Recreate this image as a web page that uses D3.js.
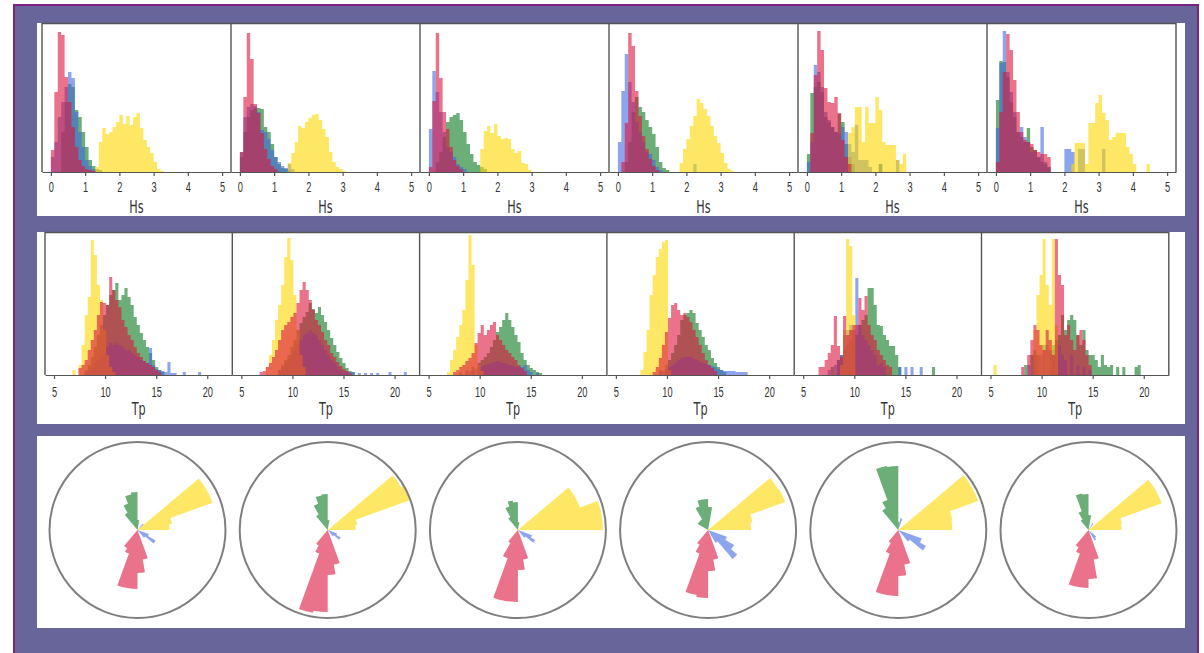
<!DOCTYPE html>
<html>
<head>
<meta charset="utf-8">
<script src="https://d3js.org/d3.v7.min.js"></script>
<style>
  body { margin: 0; background: #fff; }
  svg { display: block; font-family: "DejaVu Sans", sans-serif; }
  .spine { stroke: #555; stroke-width: 1.4; fill: none; }
  .axis path, .axis line { stroke: #555; stroke-width: 1.2; }
  .axis text { fill: #333; }
</style>
</head>
<body>
<svg id="chart" width="1204" height="653"></svg>
<script>
// ---- data (counts are in plot units) ----
// each panel: s = index of first bin, v = bin heights
var hsBin = 0.1;
var hsTicks = [0, 1, 2, 3, 4, 5];
var hsBlue = [
  {s: 0, v: [15, 30, 55, 70, 85, 100, 94, 60, 40, 25, 12, 6, 3]},
  {s: 0, v: [20, 55, 65, 68, 66, 60, 42, 40, 33, 22, 15, 10, 6, 4, 8, 3]},
  {s: 0, v: [43, 101, 80, 60, 40, 25, 20, 15, 8, 5, 3]},
  {s: 0, v: [30, 81, 118, 90, 70, 50, 40, 30, 20, 18, 12, 5, 2, 0, 0, 0, 0, 0, 0, 0, 0, 0, 8]},
  {s: 0, v: [10, 30, 107, 100, 85, 60, 52, 45, 40, 38, 45, 40, 28, 20, 47, 12, 12, 12, 5, 0, 0, 8, 0, 0, 0, 0, 12]},
  {s: 0, v: [44, 109, 141, 100, 80, 60, 40, 45, 35, 30, 20, 20, 15, 45, 10, 5, 0, 0, 0, 0, 23, 23, 20, 0, 23, 23, 0, 0, 0, 0, 0, 23]}
];
var hsGreen = [
  {s: 3, v: [40, 70, 88, 85, 62, 55, 40, 25, 12, 6, 3, 2]},
  {s: 0, v: [15, 40, 55, 62, 64, 64, 63, 45, 40, 28, 15, 8, 4, 3, 2]},
  {s: 2, v: [10, 20, 35, 50, 55, 57, 59, 52, 40, 28, 18, 10, 7, 5, 3]},
  {s: 2, v: [10, 30, 60, 75, 65, 60, 52, 45, 38, 25, 10, 4, 2]},
  {s: 0, v: [18, 79, 85, 90, 80, 55, 50, 45, 40, 58, 50, 28, 15, 8, 0, 0, 0, 0, 0, 0, 0, 8]},
  {s: 0, v: [72, 111, 110, 95, 70, 55, 40, 35, 30, 44, 25, 22, 15, 10, 8, 5]}
];
var hsYellow = [
  {s: 13, v: [5, 30, 44, 38, 40, 45, 50, 57, 48, 56, 47, 55, 59, 44, 32, 25, 19, 10, 3, 1]},
  {s: 14, v: [9, 19, 30, 46, 44, 50, 54, 57, 58, 52, 43, 35, 20, 10, 5, 3, 1]},
  {s: 15, v: [23, 41, 46, 39, 48, 36, 33, 34, 33, 23, 19, 21, 9, 8, 2]},
  {s: 18, v: [9, 23, 33, 46, 56, 73, 69, 63, 56, 46, 36, 29, 19, 9, 3, 1]},
  {s: 12, v: [39, 45, 65, 65, 30, 65, 49, 49, 75, 62, 30, 27, 27, 27, 12, 8, 18]},
  {s: 22, v: [8, 29, 29, 29, 8, 49, 49, 69, 77, 59, 52, 32, 35, 39, 39, 39, 25, 18, 8, 0, 0, 0, 8]}
];
var hsRed = [
  {s: 0, v: [22, 80, 140, 137, 95, 70, 45, 25, 12, 6, 3, 2, 1]},
  {s: 0, v: [20, 75, 139, 113, 68, 59, 39, 23, 13, 6, 3]},
  {s: 0, v: [5, 71, 139, 94, 60, 43, 25, 12, 6, 3]},
  {s: 1, v: [10, 49, 139, 126, 81, 56, 36, 23, 13, 6, 2]},
  {s: 1, v: [39, 97, 141, 122, 84, 70, 69, 75, 59, 32, 15, 8]},
  {s: 0, v: [10, 60, 100, 138, 122, 92, 60, 40, 32, 30, 28, 22, 20, 18, 18, 15]}
];

var tpBin = 0.3, tpStart = 5;
var tpTicks = [5, 10, 15, 20];
var tpBlue = [
  {s: 10, v: [3, 5, 8, 12, 15, 18, 22, 28, 32, 30, 32, 30, 28, 25, 25, 22, 20, 18, 15, 14, 12, 27, 10, 6, 5, 4, 3, 13, 2, 2, 0, 0, 3, 0, 0, 0, 0, 3]},
  {s: 12, v: [5, 8, 12, 16, 20, 25, 30, 35, 40, 42, 45, 42, 40, 35, 30, 25, 20, 15, 12, 8, 5, 4, 3, 3, 3, 0, 2, 0, 2, 0, 2, 0, 2, 0, 0, 0, 3, 0, 0, 0, 0, 3]},
  {s: 12, v: [3, 4, 5, 6, 8, 9, 10, 11, 12, 13, 14, 13, 12, 11, 10, 9, 8, 8, 8, 10, 5, 3, 0, 2]},
  {s: 14, v: [3, 4, 6, 8, 10, 12, 15, 17, 18, 18, 18, 16, 15, 13, 12, 11, 10, 9, 8, 6, 5, 4, 4, 4, 4, 3, 3, 3, 3]},
  {s: 8, v: [5, 0, 10, 15, 20, 40, 45, 50, 45, 97, 50, 40, 35, 30, 25, 20, 10, 12, 8, 0, 0, 0, 0, 8, 0, 8, 0, 8, 0, 0, 8]},
  {s: 12, v: [10, 0, 20, 0, 20, 0, 30, 0, 25, 0, 30, 20, 15, 0, 20, 0, 10, 0, 8, 0, 5]}
];
var tpGreen = [
  {s: 10, v: [5, 10, 18, 28, 40, 50, 60, 70, 80, 85, 92, 75, 80, 87, 78, 70, 58, 50, 42, 35, 28, 22, 15, 8, 5, 3]},
  {s: 12, v: [5, 10, 15, 20, 28, 35, 45, 52, 58, 63, 72, 66, 62, 68, 60, 53, 45, 37, 30, 23, 17, 12, 7, 4, 3]},
  {s: 10, v: [3, 0, 5, 0, 8, 0, 12, 15, 18, 22, 28, 35, 43, 48, 55, 62, 55, 48, 40, 33, 22, 15, 10, 7, 5, 3, 2]},
  {s: 14, v: [5, 0, 10, 15, 22, 30, 40, 55, 60, 62, 65, 62, 52, 45, 38, 30, 25, 17, 12, 8, 5, 3]},
  {s: 9, v: [8, 0, 15, 20, 25, 30, 35, 45, 40, 50, 55, 60, 87, 87, 70, 50, 49, 40, 35, 29, 29, 20, 8, 0, 0, 0, 0, 0, 0, 0, 0, 0, 0, 8]},
  {s: 11, v: [10, 0, 20, 25, 20, 0, 30, 0, 25, 30, 35, 40, 60, 45, 55, 60, 55, 40, 30, 45, 25, 20, 20, 15, 8, 20, 10, 8, 10, 0, 8, 0, 8, 0, 0, 0, 8, 10]}
];
var tpYellow = [
  {s: 6, v: [5, 0, 10, 30, 60, 78, 135, 120, 90, 75, 45, 20, 8, 3]},
  {s: 8, v: [8, 20, 35, 55, 70, 90, 118, 137, 115, 80, 45, 20, 8]},
  {s: 6, v: [3, 15, 25, 38, 50, 65, 95, 140, 110, 30, 10, 4]},
  {s: 8, v: [5, 23, 45, 80, 100, 118, 126, 133, 135, 5]},
  {s: 12, v: [10, 45, 136, 129, 60]},
  {s: 1, v: [10, 0, 0, 0, 0, 0, 0, 0, 0, 0, 0, 0, 0, 45, 80, 100, 136, 90, 70, 136, 50]}
];
var tpRed = [
  {s: 8, v: [7, 10, 15, 25, 35, 45, 60, 73, 72, 70, 98, 85, 75, 68, 55, 48, 40, 35, 28, 22, 18, 14, 12, 10, 8, 5, 3]},
  {s: 6, v: [3, 4, 8, 12, 18, 25, 35, 45, 50, 53, 58, 62, 72, 85, 93, 85, 75, 65, 55, 50, 43, 35, 30, 22, 18, 13, 9, 6, 4, 2]},
  {s: 8, v: [3, 5, 8, 10, 14, 17, 22, 32, 42, 50, 40, 45, 50, 53, 40, 35, 30, 25, 22, 18, 15, 10, 7, 4]},
  {s: 12, v: [3, 8, 17, 30, 43, 57, 70, 72, 65, 60, 62, 58, 53, 45, 38, 30, 22, 15, 10, 7, 4]},
  {s: 5, v: [8, 8, 15, 22, 30, 59, 29, 18, 59, 40, 45, 50, 50, 77, 65, 79, 50, 40, 35, 25, 20, 15, 10, 8]},
  {s: 10, v: [8, 0, 20, 35, 50, 45, 30, 25, 45, 35, 20, 136, 100, 90, 40, 50, 35, 25, 40, 45, 35, 20, 10]}
];

// rose: 10 degree sectors, s = first sector start (deg, clockwise from north)
var roseStep = 10;
var roseYellow = [
  {s: 50, v: [80, 80, 35, 32]},
  {s: 50, v: [85, 88, 30, 28]},
  {s: 50, v: [66, 66, 85, 85]},
  {s: 50, v: [81, 82, 45, 43]},
  {s: 50, v: [85, 85, 55, 54]},
  {s: 50, v: [78, 78, 34, 33]}
];
var roseGreen = [
  {s: 320, v: [20, 28, 36, 38, 10]},
  {s: 320, v: [18, 28, 35, 36, 10]},
  {s: 320, v: [15, 25, 30, 28, 8]},
  {s: 300, v: [12, 12, 12, 25, 31, 31, 23]},
  {s: 320, v: [25, 32, 65, 64, 8]},
  {s: 320, v: [12, 20, 37, 36, 15]}
];
var roseRed = [
  {s: 160, v: [30, 43, 59, 59, 25, 21]},
  {s: 160, v: [35, 45, 82, 84, 25, 18]},
  {s: 160, v: [30, 40, 72, 72, 30, 15]},
  {s: 160, v: [30, 41, 68, 66, 25, 17]},
  {s: 160, v: [35, 46, 66, 66, 25, 15]},
  {s: 160, v: [30, 49, 58, 58, 25, 20]}
];
var roseBlue = [
  {s: 40, v: [8, 0, 0, 0, 0, 0, 0, 12, 21, 10]},
  {s: 110, v: [10, 15, 8]},
  {s: 110, v: [15, 20, 10]},
  {s: 110, v: [20, 30, 38, 15]},
  {s: 10, v: [12, 0, 0, 0, 0, 0, 0, 0, 0, 0, 25, 32, 15]},
  {s: 30, v: [8, 0, 0, 0, 0, 0, 0, 0, 0, 0, 10, 12]}
];

// ---- styles ----
var colors = {
  blue:   {color: "#4169e1", alpha: 0.6},
  green:  {color: "#2e8b3e", alpha: 0.7},
  yellow: {color: "#ffd700", alpha: 0.6},
  red:    {color: "#dc143c", alpha: 0.6}
};
// drawing order: green under blue under yellow under red
var order = ["green", "blue", "yellow", "red"];

var svg = d3.select("#chart");

// background frame and white strips
svg.append("rect").attr("x", 14).attr("y", 5).attr("width", 1184).attr("height", 660)
  .attr("fill", "#67659a").attr("stroke", "#7d2180").attr("stroke-width", 2);
[[23, 193], [232, 192], [436, 192]].forEach(function (s) {
  svg.append("rect").attr("x", 37).attr("y", s[0]).attr("width", 1148).attr("height", s[1]).attr("fill", "#fff");
});

function stepData(p, bw, x0) {
  var pts = p.v.map(function (v, j) { return {x: x0 + (p.s + j) * bw, v: v}; });
  pts.push({x: x0 + (p.s + p.v.length) * bw, v: p.v[p.v.length - 1]});
  return pts;
}

function histRow(opt) {
  var g = svg.append("g");
  for (var i = 0; i < 6; i++) {
    var L = opt.left + opt.w * i;
    var x = d3.scaleLinear().domain(opt.domain).range([L, L + opt.w]);
    var y = d3.scaleLinear().domain([0, opt.top]).range([opt.bottom, opt.y0]);
    var area = d3.area().curve(d3.curveStepAfter)
      .x(function (d) { return x(d.x); })
      .y0(y(0))
      .y1(function (d) { return y(d.v); });
    order.forEach(function (name) {
      g.append("path")
        .datum(stepData(opt[name][i], opt.bw, opt.x0))
        .attr("d", area)
        .attr("fill", colors[name].color)
        .attr("fill-opacity", colors[name].alpha);
    });

    var ax = g.append("g").attr("class", "axis")
      .attr("transform", "translate(0," + opt.bottom + ")")
      .call(d3.axisBottom(x).tickValues(opt.ticks).tickFormat(d3.format("d"))
        .tickSize(4).tickPadding(opt.pad).tickSizeOuter(0));
    ax.selectAll("text").attr("font-size", 14).attr("transform", "scale(0.66,1)");

    g.append("text")
      .attr("transform", "translate(" + (L + opt.w / 2) + "," + opt.labelY + ") scale(0.66,1)")
      .attr("text-anchor", "middle")
      .attr("font-size", 17)
      .attr("fill", "#333")
      .text(opt.label);

    g.append("line").attr("class", "spine")
      .attr("x1", L).attr("x2", L).attr("y1", opt.y0).attr("y2", opt.bottom);
  }
  var R = opt.left + opt.w * 6;
  g.append("line").attr("class", "spine").attr("x1", R).attr("x2", R).attr("y1", opt.y0).attr("y2", opt.bottom);
  g.append("line").attr("class", "spine").attr("x1", opt.left).attr("x2", R).attr("y1", opt.y0 + 0.5).attr("y2", opt.y0 + 0.5);
}

histRow({left: 42, w: 189, y0: 23, bottom: 172, top: 149, domain: [-0.26, 5.26],
  bw: hsBin, x0: 0, ticks: hsTicks, pad: 6, label: "Hs", labelY: 213,
  blue: hsBlue, green: hsGreen, yellow: hsYellow, red: hsRed});

histRow({left: 45, w: 187.3, y0: 232, bottom: 375, top: 143, domain: [4.12, 22.45],
  bw: tpBin, x0: tpStart, ticks: tpTicks, pad: 8, label: "Tp", labelY: 415,
  blue: tpBlue, green: tpGreen, yellow: tpYellow, red: tpRed});

// ---- roses ----
var rScale = d3.scaleLinear().domain([0, 88]).range([0, 88]);
var rad = Math.PI / 180;

// one outline per contiguous run of sectors, so neighbouring bars show no seams
function rosePath(p) {
  var path = d3.path(), run = [];
  function flush() {
    if (!run.length) return;
    path.moveTo(0, 0);
    run.forEach(function (d) {
      var a0 = (d.a - 90) * rad, a1 = (d.a + roseStep - 90) * rad, r = rScale(d.v);
      path.lineTo(r * Math.cos(a0), r * Math.sin(a0));
      path.arc(0, 0, r, a0, a1);
    });
    path.closePath();
    run = [];
  }
  p.v.forEach(function (v, j) {
    if (v > 0) run.push({a: p.s + j * roseStep, v: v});
    else flush();
  });
  flush();
  return path.toString();
}

var roses = {blue: roseBlue, green: roseGreen, yellow: roseYellow, red: roseRed};
for (var i = 0; i < 6; i++) {
  var g = svg.append("g").attr("transform", "translate(" + (137.5 + 190.2 * i) + ",530)");
  ["blue", "green", "yellow", "red"].forEach(function (name) {
    g.append("path")
      .attr("d", rosePath(roses[name][i]))
      .attr("fill", colors[name].color)
      .attr("fill-opacity", colors[name].alpha);
  });
  g.append("circle").attr("r", 88).attr("fill", "none").attr("stroke", "#7f7f7f").attr("stroke-width", 2);
}
</script>
</body>
</html>
